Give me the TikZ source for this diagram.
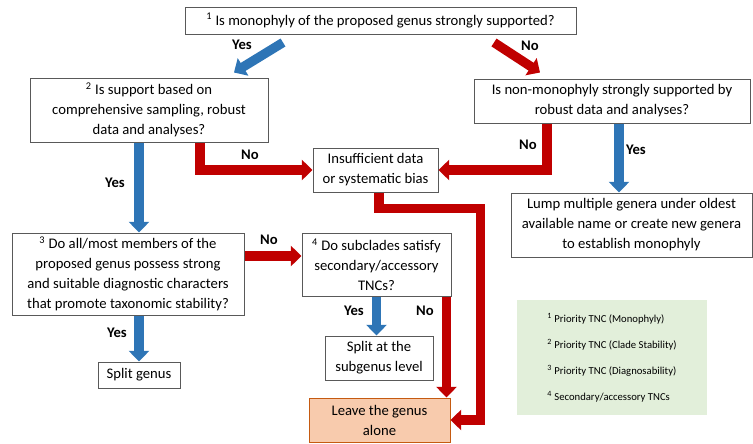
\documentclass[tikz,border=0pt]{standalone}
\usepackage{fontspec}
\setmainfont{Carlito}
\usepackage{tikz}
\usetikzlibrary{arrows.meta,calc}
\usepackage{xcolor}
\definecolor{yesblue}{HTML}{2E75B6}
\definecolor{nored}{HTML}{C00000}
\definecolor{leavefill}{HTML}{F8CBAD}
\definecolor{leaveline}{HTML}{C55A11}
\definecolor{legfill}{HTML}{E2EFDA}

\begin{document}
\begin{tikzpicture}[x=0.75pt,y=-0.75pt,font=\fontsize{11}{15}\selectfont]
    \tikzstyle{blk}=[draw=black!65,line width=0.75pt,fill=white,align=center,inner sep=0pt]
    \tikzstyle{yesarr}=[yesblue,line width=7pt,-{Triangle[width=15pt,length=8pt]}]
    \tikzstyle{noarr}=[nored,line width=7pt,-{Triangle[width=15pt,length=8pt]}]
    \tikzstyle{lbl}=[font=\fontsize{11}{13}\selectfont\bfseries,inner sep=0pt]
    \useasboundingbox (0,0) rectangle (753,443);

    \node[blk,minimum width=293.25pt,minimum height=20.25pt] (q1) at (380.5,20.5) {\textsuperscript{1} Is monophyly of the proposed genus strongly supported?};
    \node[blk,minimum width=178.5pt,minimum height=48pt] (q2) at (149,110) {\textsuperscript{2} Is support based on\\ comprehensive sampling, robust\\ data and analyses?};
    \node[blk,minimum width=207pt,minimum height=33pt] (nm) at (612,101) {Is non-monophyly strongly supported by\\ robust data and analyses?};
    \node[blk,minimum width=93.75pt,minimum height=33pt] (insuf) at (375.5,170) {Insufficient data\\ or systematic bias};
    \node[blk,minimum width=180.75pt,minimum height=48pt] (lump) at (631.5,225) {Lump multiple genera under oldest\\ available name or create new genera\\ to establish monophyly};
    \node[blk,minimum width=174pt,minimum height=61.5pt] (q3) at (128,274) {\textsuperscript{3} Do all/most members of the\\ proposed genus possess strong\\ and suitable diagnostic characters\\ that promote taxonomic stability?};
    \node[blk,minimum width=111.75pt,minimum height=47.25pt] (q4) at (376.5,264.5) {\textsuperscript{4} Do subclades satisfy\\ secondary/accessory\\ TNCs?};
    \node[blk,minimum width=81pt,minimum height=33pt] (sub) at (379,358) {Split at the\\ subgenus level};
    \node[blk,minimum width=61.5pt,minimum height=19.5pt] (split) at (139,375) {Split genus};
    \node[blk,draw=leaveline,fill=leavefill,minimum width=105.75pt,minimum height=33pt] (leave) at (379.5,420) {Leave the genus\\ alone};
    \node[fill=legfill,minimum width=142.5pt,minimum height=86.25pt,align=left,font=\fontsize{8}{19.5}\selectfont] (legend) at (612,357.5) {\textsuperscript{1} Priority TNC (Monophyly)\\ \textsuperscript{2} Priority TNC (Clade Stability)\\ \textsuperscript{3} Priority TNC (Diagnosability)\\ \textsuperscript{4} Secondary/accessory TNCs};

    \draw[yesarr] ($(q1.south)+(-97.5,8)$) -- ($(q2.north)+(85,-5)$);
    \draw[noarr] ($(q1.south)+(113.5,8)$) -- ($(nm.north)+(-72,-6)$);
    \draw[yesarr] ($(q2.south)+(-10,0)$) -- ($(q3.north)+(11,0)$);
    \draw[noarr] ($(q2.south)+(51,0)$) |- (insuf.west);
    \draw[noarr] ($(nm.south)+(-65,0)$) |- (insuf.east);
    \coordinate (lumptop) at ($(nm.south)+(7,0)$);
    \draw[yesarr] (lumptop) -- (lumptop |- lump.north);
    \draw[noarr] ($(insuf.south)+(3.5,0)$) -- ++(0,16) -| ($(leave.east)+(30,0)$) -- (leave.east);
    \draw[noarr] ($(q3.east)+(0,-18)$) -- ($(q4.west)+(0,-8.5)$);
    \draw[yesarr] (split.north |- q3.south) -- (split.north);
    \draw[yesarr] (q4.south) -- (q4.south |- sub.north);
    \coordinate (leavetop) at ($(q4.south east)+(-5,0)$);
    \draw[noarr] (leavetop) -- (leavetop |- leave.north);

    \node[lbl] (y1) at (242,45) {Yes};
    \node[lbl] (n1) at (530,46) {No};
    \node[lbl] (y2) at (115,183) {Yes};
    \node[lbl] (n2) at (250,155) {No};
    \node[lbl] (n3) at (528,145) {No};
    \node[lbl] (y3) at (636,150) {Yes};
    \node[lbl] (n4) at (269,240) {No};
    \node[lbl] (y4) at (117,333) {Yes};
    \node[lbl] (y5) at (354,311) {Yes};
    \node[lbl] (n5) at (425,311) {No};
\end{tikzpicture}
\end{document}
